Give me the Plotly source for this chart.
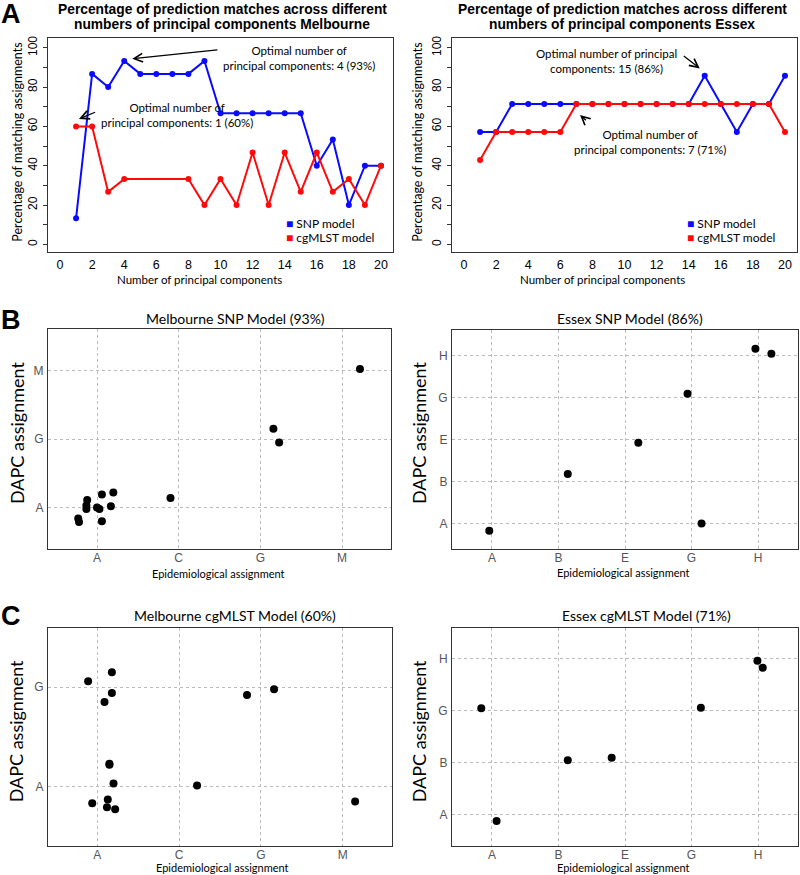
import plotly.graph_objects as go

# ---- data ----
pcs = list(range(1, 21))
mel_snp = [13.3, 86.7, 80, 93.3, 86.7, 86.7, 86.7, 86.7, 93.3, 66.7,
           66.7, 66.7, 66.7, 66.7, 66.7, 40, 53.3, 20, 40, 40]
mel_cg = [60, 60, 26.7, 33.3, None, None, None, 33.3, 20, 33.3,
          20, 46.7, 20, 46.7, 26.7, 46.7, 26.7, 33.3, 20, 40]
ess_snp = [57.1, 57.1, 71.4, 71.4, 71.4, 71.4, 71.4, 71.4, 71.4, 71.4,
           71.4, 71.4, 71.4, 71.4, 85.7, 71.4, 57.1, 71.4, 71.4, 85.7]
ess_cg = [42.9, 57.1, 57.1, 57.1, 57.1, 57.1, 71.4, 71.4, 71.4, 71.4,
          71.4, 71.4, 71.4, 71.4, 71.4, 71.4, 71.4, 71.4, 71.4, 57.1]

mel_cats = ["A", "C", "G", "M"]
ess_cats = ["A", "B", "E", "G", "H"]
mel_snp_ycats = ["A", "G", "M"]
mel_cg_ycats = ["A", "G"]
ess_snp_ycats = ["A", "B", "E", "G", "H"]
ess_cg_ycats = ["A", "B", "G", "H"]

# jittered epi (x) / DAPC (y) positions, category index units (A = 1)
mel_snp_x = [0.77, 0.78, 0.87, 0.87, 0.88, 1.0, 1.03, 1.06, 1.06, 1.17, 1.2, 1.9, 3.16, 3.23, 4.22]
mel_snp_y = [0.84, 0.79, 1.03, 0.98, 1.11, 1.0, 0.98, 1.19, 0.80, 1.02, 1.22, 1.14, 2.15, 1.95, 3.02]
ess_snp_x = [0.96, 2.14, 3.2, 3.94, 4.15, 4.96, 5.2]
ess_snp_y = [0.83, 2.18, 2.92, 4.09, 1.0, 5.16, 5.04]
mel_cg_x = [0.89, 1.18, 1.18, 1.09, 1.15, 1.15, 1.2, 0.94, 1.13, 1.12, 1.22, 2.22, 2.83, 3.16, 4.15]
mel_cg_y = [2.06, 2.15, 1.94, 1.85, 1.22, 1.23, 1.03, 0.83, 0.87, 0.79, 0.77, 1.01, 1.92, 1.98, 0.85]
ess_cg_x = [0.84, 1.07, 2.14, 2.8, 4.14, 4.99, 5.07]
ess_cg_y = [3.05, 0.88, 2.05, 2.1, 3.06, 3.96, 3.83]

W, H = 800, 875
BLUE, RED = "#0a0aff", "#ff0a0a"
TXT = "Lato, 'Open Sans', sans-serif"
HEL = "'Liberation Sans', Arial, sans-serif"


def px(x):
    return x / W


def py(y):
    return 1 - y / H


fig = go.Figure()

# ---- panel A line plots ----
for i, (snp, cg) in enumerate([(mel_snp, mel_cg), (ess_snp, ess_cg)]):
    xa = "x" if i == 0 else "x2"
    ya = "y" if i == 0 else "y2"
    fig.add_trace(go.Scatter(x=pcs, y=snp, mode="lines+markers", xaxis=xa, yaxis=ya,
                             line=dict(color=BLUE, width=2), marker=dict(size=6, color=BLUE),
                             showlegend=False))
    fig.add_trace(go.Scatter(x=pcs, y=cg, mode="lines+markers", xaxis=xa, yaxis=ya,
                             connectgaps=True,
                             line=dict(color=RED, width=2), marker=dict(size=6, color=RED),
                             showlegend=False))

# ---- panel B/C scatter plots ----
scatters = [(mel_snp_x, mel_snp_y, 3), (ess_snp_x, ess_snp_y, 4),
            (mel_cg_x, mel_cg_y, 5), (ess_cg_x, ess_cg_y, 6)]
for xs, ys, n in scatters:
    fig.add_trace(go.Scatter(x=xs, y=ys, mode="markers", xaxis=f"x{n}", yaxis=f"y{n}",
                             marker=dict(size=8, color="black"), showlegend=False))

box = dict(showline=True, mirror=True, linecolor="#333", linewidth=1, zeroline=False)

# panel A axes
a_dom = [py(251), py(36)]
for n, xd in [(1, [px(48), px(393)]), (2, [px(452), px(797)])]:
    sfx = "" if n == 1 else str(n)
    fig.layout[f"xaxis{sfx}"] = dict(domain=xd, anchor=f"y{sfx}", range=[-0.75, 20.75],
                                    tickvals=list(range(0, 21, 2)), ticks="", showgrid=False,
                                    tickfont=dict(family=HEL, size=12.5, color="black"),
                                    ticklabelstandoff=1, **box)
    fig.layout[f"yaxis{sfx}"] = dict(domain=a_dom, anchor=f"x{sfx}", range=[-4.1, 105],
                                    tickvals=list(range(0, 101, 10)),
                                    ticktext=[str(v) if v % 20 == 0 else "" for v in range(0, 101, 10)],
                                    ticks="outside", ticklen=4, tickcolor="#333", tickangle=-90,
                                    showgrid=False, ticklabelstandoff=1,
                                    tickfont=dict(family=HEL, size=12, color="black"), **box)

grid = dict(showgrid=True, gridcolor="#bbbbbb", griddash="dot", gridwidth=1, ticks="",
            tickfont=dict(family=HEL, size=12, color="#555"))
panels = [
    (3, [px(48), px(391)], [py(548), py(328)], mel_cats, [0.4, 4.6], mel_snp_ycats, [0.4, 3.6]),
    (4, [px(452), px(798)], [py(548), py(329)], ess_cats, [0.4, 5.6], ess_snp_ycats, [0.4, 5.6]),
    (5, [px(48), px(392)], [py(846), py(627)], mel_cats, [0.4, 4.6], mel_cg_ycats, [0.4, 2.6]),
    (6, [px(452), px(798)], [py(846), py(627)], ess_cats, [0.4, 5.6], ess_cg_ycats, [0.4, 4.6]),
]
for n, xd, yd, xc, xr, yc, yr in panels:
    fig.layout[f"xaxis{n}"] = dict(domain=xd, anchor=f"y{n}", range=xr,
                                  tickvals=list(range(1, len(xc) + 1)), ticktext=xc,
                                  ticklabelstandoff=-2, **grid, **box)
    fig.layout[f"yaxis{n}"] = dict(domain=yd, anchor=f"x{n}", range=yr,
                                  tickvals=list(range(1, len(yc) + 1)), ticktext=yc,
                                  ticklabelstandoff=1, **grid, **box)

ann = []


def text(x, y, s, size, family=TXT, color="black", bold=False, angle=0, xanchor="center"):
    if bold:
        s = f"<b>{s}</b>"
    ann.append(dict(x=px(x), y=py(y), xref="paper", yref="paper", text=s, showarrow=False,
                    font=dict(family=family, size=size, color=color), textangle=angle,
                    xanchor=xanchor, yanchor="middle"))


# panel letters
text(11, 12, "A", 27, family=HEL, bold=True)
text(11, 319, "B", 27, family=HEL, bold=True)
text(11, 615, "C", 27, family=HEL, bold=True)

# panel A titles
text(222, 7.5, "Percentage of prediction matches across different", 13.8, family=HEL, bold=True)
text(222, 22.5, "numbers of principal components Melbourne", 13.8, family=HEL, bold=True)
text(622, 7.5, "Percentage of prediction matches across different", 13.8, family=HEL, bold=True)
text(622, 22.5, "numbers of principal components Essex", 13.8, family=HEL, bold=True)
for cx in (18, 418):
    text(cx, 141, "Percentage of matching assignments", 12.5, angle=-90)
text(199, 278, "Number of principal components", 11.5)
text(602, 278, "Number of principal components", 11.5)

# legends for panel A
for lx in (284, 685):
    text(lx, 222, f"<span style='color:{BLUE}'>■</span> SNP model", 12, xanchor="left")
    text(lx, 236, f"<span style='color:{RED}'>■</span> cgMLST model", 12, xanchor="left")

# optimum call-outs
text(221, 56, "Optimal number of<br>principal components: 4 (93%)", 11.5, xanchor="left")
text(99, 113, "Optimal number of<br>principal components: 1 (60%)", 11.5, xanchor="left")
text(534, 59, "Optimal number of principal<br>components: 15 (86%)", 11.5, xanchor="left")
text(572, 140, "Optimal number of<br>principal components: 7 (71%)", 11.5, xanchor="left")

arrows = [("x", "y", 4.5, 94.4, 9.9, 99.0), ("x", "y", 1.18, 63.8, 2.28, 67.5),
          ("x2", "y2", 14.69, 89.5, 13.6, 96.4), ("x2", "y2", 7.23, 65.8, 7.69, 62.4)]
for xr, yr, hx, hy, tx, ty in arrows:
    ann.append(dict(x=hx, y=hy, ax=tx, ay=ty, xref=xr, yref=yr, axref=xr, ayref=yr,
                    text="", showarrow=True, arrowhead=5, arrowsize=1.3, arrowwidth=1.3,
                    arrowcolor="black"))

# panel B/C titles and axis titles
text(235, 317, "Melbourne SNP Model (93%)", 14)
text(630, 317, "Essex SNP Model (86%)", 14)
text(235, 615, "Melbourne cgMLST Model (60%)", 14)
text(646, 615, "Essex cgMLST Model (71%)", 14)
for cx, cy in [(17, 432), (419, 432), (16, 731), (419, 731)]:
    text(cx, cy, "DAPC assignment", 18, angle=-90)
for cx, cy in [(218, 573), (623, 572), (222, 867), (623, 867)]:
    text(cx, cy, "Epidemiological assignment", 11)

fig.update_layout(width=W, height=H, margin=dict(l=0, r=0, t=0, b=0),
                  paper_bgcolor="white", plot_bgcolor="white", annotations=ann,
                  font=dict(family=TXT))

# the page body's default 8px margin would push the 800x875 figure off the window
fig.write_html("out.html", config={"displayModeBar": False},
               post_script="document.body.style.margin = '0';")
